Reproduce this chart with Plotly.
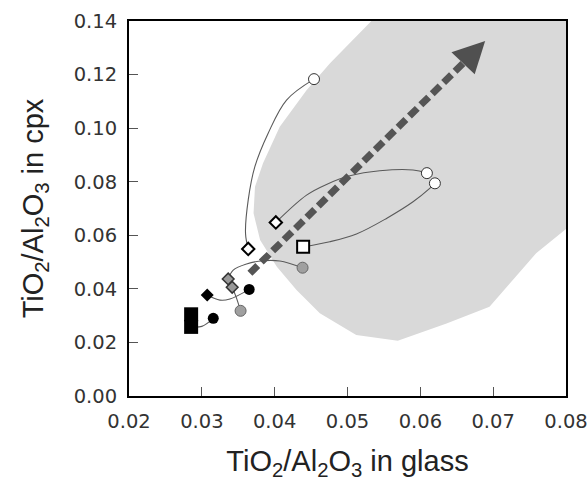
import plotly.graph_objects as go

# ---- data ----
x_ticks = [0.02, 0.03, 0.04, 0.05, 0.06, 0.07, 0.08]
x_tick_labels = ["0.02", "0.03", "0.04", "0.05", "0.06", "0.07", "0.08"]
y_ticks = [0.00, 0.02, 0.04, 0.06, 0.08, 0.10, 0.12, 0.14]
y_tick_labels = ["0.00", "0.02", "0.04", "0.06", "0.08", "0.10", "0.12", "0.14"]

# shaded field
field_x = [0.0540, 0.0810, 0.0810, 0.0759, 0.0727, 0.0695, 0.0636, 0.0569, 0.0512,
           0.0462, 0.0430, 0.0403, 0.0380, 0.0371, 0.0373, 0.0384, 0.0407, 0.0444,
           0.0476, 0.0503, 0.0540]
field_y = [0.1420, 0.1420, 0.0645, 0.0533, 0.0433, 0.0333, 0.0271, 0.0206, 0.0228,
           0.0309, 0.0396, 0.0483, 0.0582, 0.0682, 0.0781, 0.0869, 0.1005, 0.1142,
           0.1242, 0.1317, 0.1420]

# point groups
open_circle_x = [0.0454, 0.0609, 0.0620]
open_circle_y = [0.1183, 0.0832, 0.0794]
open_diamond_x = [0.04016, 0.03637]
open_diamond_y = [0.0648, 0.0549]
open_square_x = [0.04391]
open_square_y = [0.0557]
gray_circle_x = [0.04383, 0.03532]
gray_circle_y = [0.0479, 0.0318]
gray_diamond_x = [0.03362, 0.03417]
gray_diamond_y = [0.0437, 0.0406]
black_circle_x = [0.0365, 0.03157]
black_circle_y = [0.0398, 0.0290]
black_diamond_x = [0.03074]
black_diamond_y = [0.0377]
black_square_x = [0.02853, 0.02853]
black_square_y = [0.0305, 0.0258]

# connecting curves (each list runs from one symbol to its partner)
curve1_x = [0.0454, 0.04163, 0.03911, 0.03728, 0.03637, 0.0360, 0.03637]
curve1_y = [0.1183, 0.1105, 0.0981, 0.0856, 0.0732, 0.0607, 0.0549]
curve2_x = [0.04016, 0.04438, 0.04712, 0.05032, 0.05443, 0.0590, 0.0609]
curve2_y = [0.0648, 0.0750, 0.0790, 0.0822, 0.0841, 0.0844, 0.0832]
curve3_x = [0.04391, 0.04757, 0.05123, 0.05535, 0.0590, 0.06129, 0.0620]
curve3_y = [0.0557, 0.0576, 0.0605, 0.0663, 0.0725, 0.0775, 0.0794]
curve4_x = [0.04383, 0.04071, 0.03842, 0.03614, 0.03431, 0.03362]
curve4_y = [0.0479, 0.0504, 0.0505, 0.0493, 0.0470, 0.0437]
curve5_x = [0.03074, 0.03248, 0.03385, 0.0365]
curve5_y = [0.0377, 0.0358, 0.0362, 0.0398]
curve6_x = [0.03417, 0.03470, 0.03532]
curve6_y = [0.0406, 0.0370, 0.0318]
curve7_x = [0.02853, 0.0300, 0.03157]
curve7_y = [0.0258, 0.0260, 0.0290]

# trend arrow
arrow_shaft_x = [0.0366, 0.06586]
arrow_shaft_y = [0.0458, 0.1242]
arrow_head_x = [0.0689, 0.06427, 0.06746, 0.0689]
arrow_head_y = [0.1325, 0.1283, 0.1201, 0.1325]

fig = go.Figure()

fig.add_trace(go.Scatter(x=field_x, y=field_y, mode="lines", fill="toself",
                         fillcolor="#d9d9d9", line=dict(width=0, color="#d9d9d9"),
                         hoverinfo="skip", showlegend=False))

for cx, cy in [(curve1_x, curve1_y), (curve2_x, curve2_y), (curve3_x, curve3_y),
               (curve4_x, curve4_y), (curve5_x, curve5_y), (curve6_x, curve6_y),
               (curve7_x, curve7_y)]:
    fig.add_trace(go.Scatter(x=cx, y=cy, mode="lines",
                             line=dict(color="#5a5a5a", width=1.1, shape="spline", smoothing=1.0),
                             hoverinfo="skip", showlegend=False))

fig.add_trace(go.Scatter(x=arrow_shaft_x, y=arrow_shaft_y, mode="lines",
                         line=dict(color="#555555", width=7, dash="11px,5px"),
                         hoverinfo="skip", showlegend=False))
fig.add_trace(go.Scatter(x=arrow_head_x, y=arrow_head_y, mode="lines", fill="toself",
                         fillcolor="#505050", line=dict(width=0, color="#505050"),
                         hoverinfo="skip", showlegend=False))

def pts(x, y, symbol, size, fill, lc, lw):
    fig.add_trace(go.Scatter(x=x, y=y, mode="markers",
                             marker=dict(symbol=symbol, size=size, color=fill,
                                         line=dict(color=lc, width=lw)),
                             showlegend=False))

pts(open_circle_x, open_circle_y, "circle", 11, "white", "#333333", 1)
pts(open_diamond_x, open_diamond_y, "diamond", 9.5, "white", "black", 2)
pts(open_square_x, open_square_y, "square", 12, "white", "black", 2)
pts(gray_circle_x, gray_circle_y, "circle", 11, "#a0a0a0", "#666666", 1)
pts(gray_diamond_x, gray_diamond_y, "diamond", 9, "#999999", "#333333", 1.5)
pts(black_circle_x, black_circle_y, "circle", 11, "black", "black", 0)
pts(black_diamond_x, black_diamond_y, "diamond", 10, "black", "black", 0)
pts(black_square_x, black_square_y, "square", 14, "black", "black", 0)

tick_font = dict(family="DejaVu Sans", size=19.5, color="#333333")
title_font = dict(family="Liberation Sans", size=29, color="#222222")

fig.update_layout(
    width=588, height=481,
    margin=dict(l=129, r=22, t=21, b=85),
    paper_bgcolor="white", plot_bgcolor="white",
    xaxis=dict(range=[0.02, 0.08], tickvals=x_ticks, ticktext=x_tick_labels,
               automargin=False,
               showgrid=False, zeroline=False, showline=True, linecolor="black",
               linewidth=2, mirror=True, ticks="inside", ticklen=9, tickwidth=1,
               tickcolor="#555555", tickfont=tick_font, ticklabelstandoff=7,
               title=dict(text="TiO<sub>2</sub>/Al<sub>2</sub>O<sub>3</sub> in glass",
                          font=title_font, standoff=18)),
    yaxis=dict(range=[0, 0.14], tickvals=y_ticks, ticktext=y_tick_labels,
               automargin=False,
               showgrid=False, zeroline=False, showline=True, linecolor="black",
               linewidth=2, mirror=True, ticks="inside", ticklen=9, tickwidth=1,
               tickcolor="#555555", tickfont=tick_font, ticklabelstandoff=6,
               title=dict(text="TiO<sub>2</sub>/Al<sub>2</sub>O<sub>3</sub> in cpx",
                          font=title_font, standoff=22)),
)

fig.write_html("out.html", config={"displayModeBar": False},
               post_script="document.body.style.margin='0';")
